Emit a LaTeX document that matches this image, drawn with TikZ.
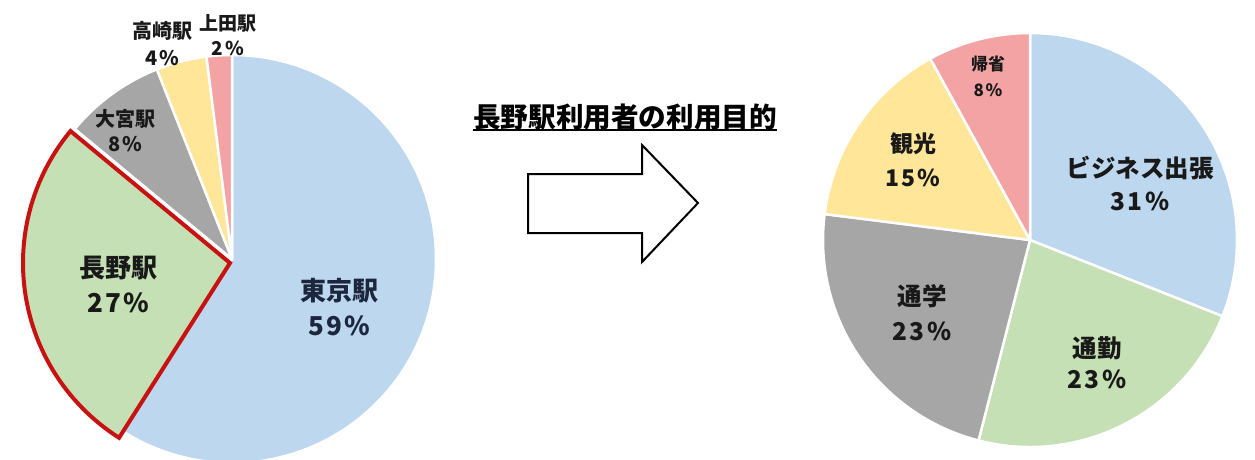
\documentclass[tikz,border=0pt]{standalone}
\usepackage{fontspec}
\newfontfamily\jp{Noto Sans CJK JP}
\newcommand{\pct}[1]{{\addfontfeature{LetterSpace=9}#1}}
\definecolor{pieblue}{RGB}{189,215,238}
\definecolor{piegreen}{RGB}{197,224,180}
\definecolor{piegray}{RGB}{166,166,166}
\definecolor{pieyellow}{RGB}{255,230,153}
\definecolor{piepink}{RGB}{243,163,163}
\definecolor{piered}{RGB}{200,18,18}
\definecolor{navytext}{RGB}{28,38,60}
\definecolor{labeltext}{RGB}{25,25,25}
\begin{document}
\begin{tikzpicture}[x=1pt,y=1pt,
  slice/.style={draw=white, line width=2.5pt, line join=round},
  lbl/.style={font=\jp\bfseries, text=labeltext, align=center, inner sep=0pt},
]
\clip (0,0) rectangle (1255,459);
\fill[white] (0,0) rectangle (1255,459);
% ---------- left pie ----------
\coordinate (L) at (232,200);
\coordinate (N) at (230,196);
\filldraw[slice, fill=pieblue] (L) -- ++(90:204) arc[start angle=90, end angle=-122.4, radius=204] -- cycle;
\filldraw[slice, fill=piegray] (L) -- ++(111.6:204) arc[start angle=111.6, end angle=140.4, radius=204] -- cycle;
\filldraw[slice, fill=pieyellow] (L) -- ++(97.2:204) arc[start angle=97.2, end angle=111.6, radius=204] -- cycle;
\filldraw[slice, fill=piepink] (L) -- ++(90:204) arc[start angle=90, end angle=97.2, radius=204] -- cycle;
\filldraw[fill=piegreen, draw=piered, line width=4pt, line join=miter] (N) -- ++(140.4:207) arc[start angle=140.4, end angle=237.6, radius=207] -- cycle;
% labels
\node[lbl, text=navytext, font=\jp\bfseries\fontsize{26}{35}\selectfont] (tokyo) at (339,151.5) {東京駅\\\pct{59\%}};
\node[lbl, font=\jp\bfseries\fontsize{26}{35}\selectfont] (nagano) at (118,174.5) {長野駅\\\pct{27\%}};
\node[lbl, font=\jp\bfseries\fontsize{20}{25}\selectfont] (omiya) at (125,328.5) {大宮駅\\\pct{8\%}};
\node[lbl, font=\jp\bfseries\fontsize{20}{27}\selectfont] (takasaki) at (162,415.5) {高崎駅\\\pct{4\%}};
\node[lbl, font=\jp\bfseries\fontsize{19}{25}\selectfont] (ueda) at (228,423.5) {上田駅\\\pct{2\%}};
% ---------- title and arrow ----------
\node[font=\jp\bfseries\fontsize{27.6}{30}\selectfont, inner sep=0pt, anchor=base] (title) at (625,332) {長野駅利用者の利用目的};
\draw[line width=1.8pt] ([yshift=-3pt]title.base west) -- ([yshift=-3pt]title.base east);
\draw[line width=2pt, fill=white, line join=miter] (528,285) -- (642,285) -- (642,314) -- (698,256) -- (642,197) -- (642,226) -- (528,226) -- cycle;
% ---------- right pie ----------
\coordinate (R) at (1030,219);
\filldraw[slice, fill=pieblue] (R) -- ++(-21.6:207) arc[start angle=-21.6, end angle=90, radius=207] -- cycle;
\filldraw[slice, fill=piegreen] (R) -- ++(-104.4:207) arc[start angle=-104.4, end angle=-21.6, radius=207] -- cycle;
\filldraw[slice, fill=piegray] (R) -- ++(172.8:207) arc[start angle=172.8, end angle=255.6, radius=207] -- cycle;
\filldraw[slice, fill=pieyellow] (R) -- ++(118.8:207) arc[start angle=118.8, end angle=172.8, radius=207] -- cycle;
\filldraw[slice, fill=piepink] (R) -- ++(90:207) arc[start angle=90, end angle=118.8, radius=207] -- cycle;
\node[lbl, font=\jp\bfseries\fontsize{17}{26}\selectfont] (kisei) at (988,383) {帰省\\\pct{8\%}};
\node[lbl, font=\jp\bfseries\fontsize{23}{34}\selectfont] (kanko) at (913,299) {観光\\\pct{15\%}};
\node[lbl, font=\jp\bfseries\fontsize{24.5}{33}\selectfont] (biz) at (1140,275.5) {ビジネス出張\\\pct{31\%}};
\node[lbl, font=\jp\bfseries\fontsize{24.5}{35}\selectfont] (tsugaku) at (922,146.5) {通学\\\pct{23\%}};
\node[lbl, font=\jp\bfseries\fontsize{24.5}{31}\selectfont] (tsukin) at (1097,96.5) {通勤\\\pct{23\%}};
\end{tikzpicture}
\end{document}
